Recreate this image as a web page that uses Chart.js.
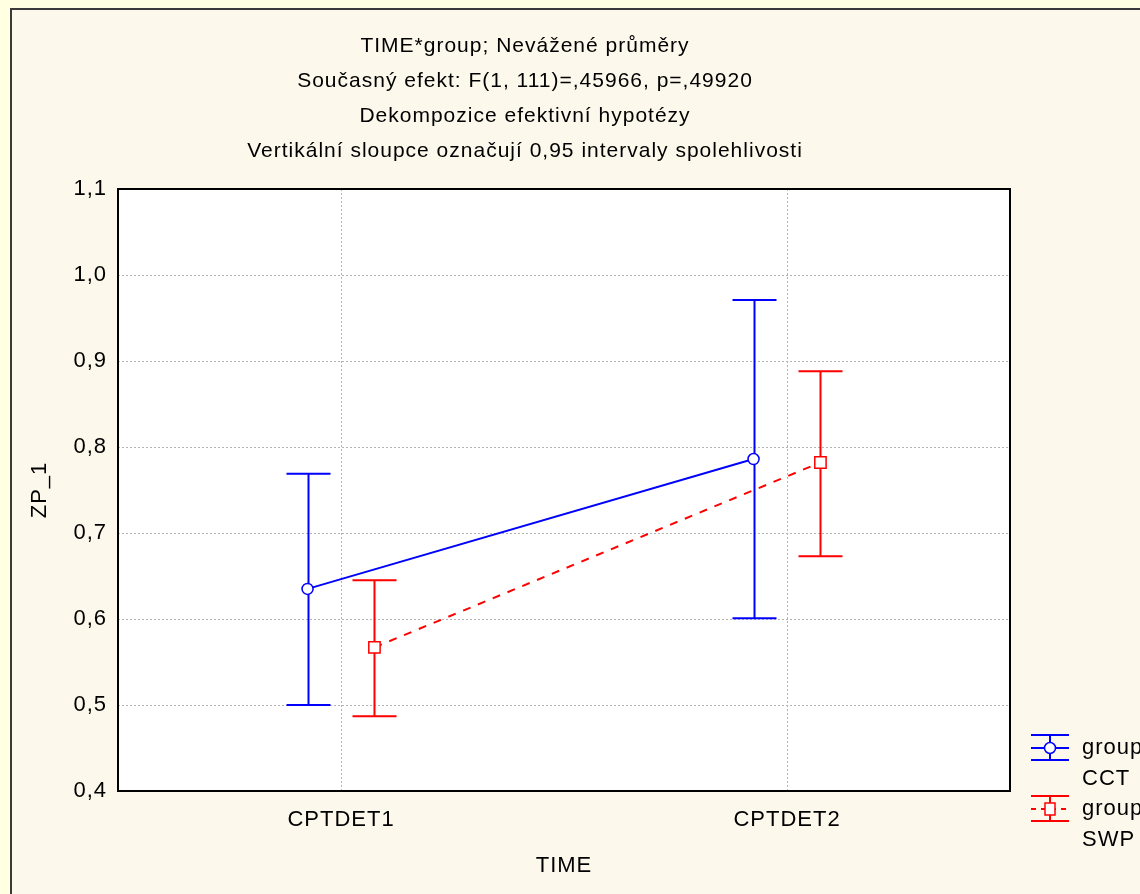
<!DOCTYPE html>
<html>
<head>
<meta charset="utf-8">
<script src="https://cdn.jsdelivr.net/npm/chart.js@4.4.1/dist/chart.umd.min.js"></script>
<style>
  html, body { margin: 0; padding: 0; background: #FFFFE1; }
  #wrap { width: 1140px; height: 894px; position: relative; }
</style>
</head>
<body>
<div id="wrap"><canvas id="chart" width="1140" height="894"></canvas></div>
<script>
// data
const categories = ['CPTDET1', 'CPTDET2'];
const titleLines = [
    'TIME*group; Nevážené průměry',
    'Současný efekt: F(1, 111)=,45966, p=,49920',
    'Dekompozice efektivní hypotézy',
    'Vertikální sloupce označují 0,95 intervaly spolehlivosti'
];
const cctMeans = [0.635, 0.786];
const cctLower = [0.500, 0.601];
const cctUpper = [0.769, 0.971];
const swpMeans = [0.567, 0.782];
const swpLower = [0.487, 0.673];
const swpUpper = [0.645, 0.888];
const yTicks = [0.4, 0.5, 0.6, 0.7, 0.8, 0.9, 1.0, 1.1];

const BLUE = '#0000FF';
const RED = '#FF0000';
const FONT = '"Liberation Sans", Arial, sans-serif';
const SHIFT = 0.075; // horizontal jitter of the two groups around each category

const toPoints = (means, dx) => means.map((v, i) => ({ x: i + 1 + dx, y: v }));
const fmt = v => v.toFixed(1).replace('.', ',');

// the original text is a bit wider than Liberation Sans, so spread letters slightly
const spacingPlugin = {
    id: 'spacing',
    beforeInit(chart) { chart.ctx.letterSpacing = '1px'; },
    beforeLayout(chart) { chart.ctx.letterSpacing = '1px'; },
    beforeDraw(chart) { chart.ctx.letterSpacing = '1px'; }
};

// background frame
const framePlugin = {
    id: 'frame',
    beforeDraw(chart) {
        const { ctx, chartArea: a } = chart;
        ctx.save();
        ctx.fillStyle = '#FFFFE1';
        ctx.fillRect(0, 0, chart.width, chart.height);
        ctx.fillStyle = '#FDF8EC';
        ctx.fillRect(10, 8, chart.width, chart.height);
        ctx.strokeStyle = '#3a3a3a';
        ctx.lineWidth = 2;
        ctx.beginPath();
        ctx.moveTo(11, chart.height + 2);
        ctx.lineTo(11, 9);
        ctx.lineTo(chart.width + 2, 9);
        ctx.stroke();
        ctx.fillStyle = '#FFFFFF';
        ctx.fillRect(a.left, a.top, a.right - a.left, a.bottom - a.top);

        // title lines, centred on the whole graph window rather than the plot
        ctx.fillStyle = '#000';
        ctx.font = '21px ' + FONT;
        ctx.letterSpacing = '1px';
        ctx.textAlign = 'center';
        ctx.textBaseline = 'middle';
        titleLines.forEach((t, i) => ctx.fillText(t, 525, 46 + i * 35));
        ctx.restore();
    },
    afterDatasetsDraw(chart) {
        const { ctx, chartArea: a } = chart;
        ctx.save();
        ctx.strokeStyle = '#000';
        ctx.lineWidth = 2;
        ctx.strokeRect(a.left, a.top, a.right - a.left, a.bottom - a.top);
        ctx.restore();
    }
};

// confidence interval bars, drawn under the markers
const errorBarPlugin = {
    id: 'errorBars',
    beforeDatasetsDraw(chart) {
        const { ctx, scales: { x, y } } = chart;
        const groups = [
            { lo: cctLower, hi: cctUpper, dx: -SHIFT, color: BLUE },
            { lo: swpLower, hi: swpUpper, dx: SHIFT, color: RED }
        ];
        ctx.save();
        ctx.lineWidth = 2;
        groups.forEach(g => {
            ctx.strokeStyle = g.color;
            g.lo.forEach((lo, i) => {
                const px = Math.round(x.getPixelForValue(i + 1 + g.dx)) + 0.5;
                const y1 = y.getPixelForValue(lo);
                const y2 = y.getPixelForValue(g.hi[i]);
                ctx.beginPath();
                ctx.moveTo(px, y1);
                ctx.lineTo(px, y2);
                ctx.moveTo(px - 22, y1);
                ctx.lineTo(px + 22, y1);
                ctx.moveTo(px - 22, y2);
                ctx.lineTo(px + 22, y2);
                ctx.stroke();
            });
        });
        ctx.restore();
    }
};

// legend at the right, outside the plot
const legendPlugin = {
    id: 'sideLegend',
    afterDraw(chart) {
        const { ctx } = chart;
        const items = [
            { label: ['group', 'CCT'], color: BLUE, dash: [], marker: 'circle', y: 748 },
            { label: ['group', 'SWP'], color: RED, dash: [5, 5], marker: 'square', y: 809 }
        ];
        ctx.save();
        items.forEach(it => {
            const cx = 1050;
            ctx.strokeStyle = it.color;
            ctx.lineWidth = 2;
            ctx.beginPath();
            ctx.moveTo(1031, it.y - 13); ctx.lineTo(1069, it.y - 13);
            ctx.moveTo(1031, it.y + 12); ctx.lineTo(1069, it.y + 12);
            ctx.moveTo(cx, it.y - 13); ctx.lineTo(cx, it.y + 12);
            ctx.stroke();
            ctx.setLineDash(it.dash);
            ctx.beginPath();
            ctx.moveTo(1031, it.y); ctx.lineTo(1069, it.y);
            ctx.stroke();
            ctx.setLineDash([]);
            ctx.fillStyle = '#fff';
            ctx.lineWidth = 1.5;
            ctx.beginPath();
            if (it.marker === 'circle') {
                ctx.arc(cx, it.y, 5.5, 0, Math.PI * 2);
            } else {
                ctx.rect(cx - 5, it.y - 6, 10, 12);
            }
            ctx.fill();
            ctx.stroke();
            ctx.fillStyle = '#000';
            ctx.font = '22px ' + FONT;
            ctx.letterSpacing = '1px';
            ctx.textAlign = 'left';
            ctx.textBaseline = 'middle';
            ctx.fillText(it.label[0], 1082, it.y);
            ctx.fillText(it.label[1], 1082, it.y + 31);
        });
        ctx.restore();
    }
};

new Chart(document.getElementById('chart'), {
    type: 'line',
    data: {
        datasets: [
            {
                label: 'group CCT',
                data: toPoints(cctMeans, -SHIFT),
                borderColor: BLUE,
                borderWidth: 2,
                pointStyle: 'circle',
                pointRadius: 5.5,
                pointBorderWidth: 1.5,
                pointBackgroundColor: '#FFFFFF',
                pointBorderColor: BLUE,
                tension: 0
            },
            {
                label: 'group SWP',
                data: toPoints(swpMeans, SHIFT),
                borderColor: RED,
                borderWidth: 2,
                borderDash: [8, 8],
                pointStyle: 'rect',
                pointRadius: 8,
                pointBorderWidth: 1.5,
                pointBackgroundColor: '#FFFFFF',
                pointBorderColor: RED,
                tension: 0
            }
        ]
    },
    options: {
        responsive: false,
        animation: false,
        events: [],
        layout: { padding: { top: 189, right: 130, bottom: 0, left: 10 } },
        plugins: {
            legend: { display: false },
            title: { display: false },
            tooltip: { enabled: false }
        },
        scales: {
            x: {
                type: 'linear',
                min: 0.5,
                max: 2.5,
                afterFit: s => { s.height = 103; },
                afterBuildTicks: s => { s.ticks = categories.map((c, i) => ({ value: i + 1 })); },
                ticks: {
                    color: '#000',
                    font: { family: FONT, size: 22 },
                    padding: 16,
                    callback: v => categories[v - 1]
                },
                grid: {
                    color: '#b4b4b4',
                    lineWidth: 1,
                    drawTicks: false
                },
                border: { display: false, dash: [2, 2] },
                title: {
                    display: true,
                    text: 'TIME',
                    color: '#000',
                    font: { family: FONT, size: 22 },
                    padding: { top: 0, bottom: 15 }
                }
            },
            y: {
                min: 0.4,
                max: 1.1,
                afterFit: s => { s.width = 108; },
                afterBuildTicks: s => { s.ticks = yTicks.map(v => ({ value: v })); },
                ticks: {
                    color: '#000',
                    font: { family: FONT, size: 22 },
                    padding: 11,
                    callback: v => fmt(v)
                },
                grid: {
                    color: '#b4b4b4',
                    lineWidth: 1,
                    drawTicks: false
                },
                border: { display: false, dash: [2, 2] },
                title: {
                    display: true,
                    text: 'ZP_1',
                    color: '#000',
                    font: { family: FONT, size: 22 },
                    padding: { top: 17, bottom: 0 }
                }
            }
        }
    },
    plugins: [spacingPlugin, framePlugin, errorBarPlugin, legendPlugin]
});
</script>
</body>
</html>
